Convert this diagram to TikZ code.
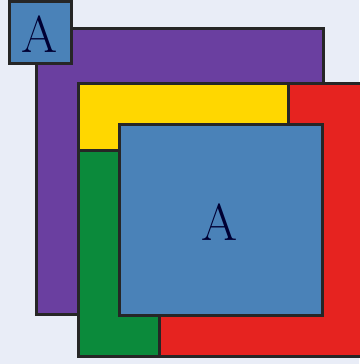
\documentclass[tikz,border=0pt]{standalone}
\begin{document}
\begin{tikzpicture}[x=1pt,y=-1pt,
  box/.style={draw=black!85, line width=3pt},
  lbl/.style={font=\fontsize{52}{52}\selectfont, text=black!80!blue}]
\definecolor{bg}{HTML}{E9EDF7}
\definecolor{cpurple}{HTML}{6A3FA0}
\definecolor{cyellow}{HTML}{FFD700}
\definecolor{cred}{HTML}{E62320}
\definecolor{cgreen}{HTML}{0B8A3B}
\definecolor{cblue}{HTML}{4A82B8}
\fill[bg] (0,0) rectangle (359,364);
\useasboundingbox (0,0) rectangle (359,364);
\draw[box, fill=cpurple] (36,28) rectangle (323,314);
\draw[box, fill=cred] (78,83) rectangle (366,356);
\draw[box, fill=cyellow] (78,83) rectangle (288,150);
\draw[box, fill=cgreen] (78,150) rectangle (159,356);
\draw[box, fill=cblue] (119,124) rectangle (322,315);
\node[lbl] (big) at (220,222) {A};
\draw[box, fill=cblue] (9,1.5) rectangle (71,63);
\node[lbl] (small) at (40,34) {A};
\end{tikzpicture}
\end{document}
